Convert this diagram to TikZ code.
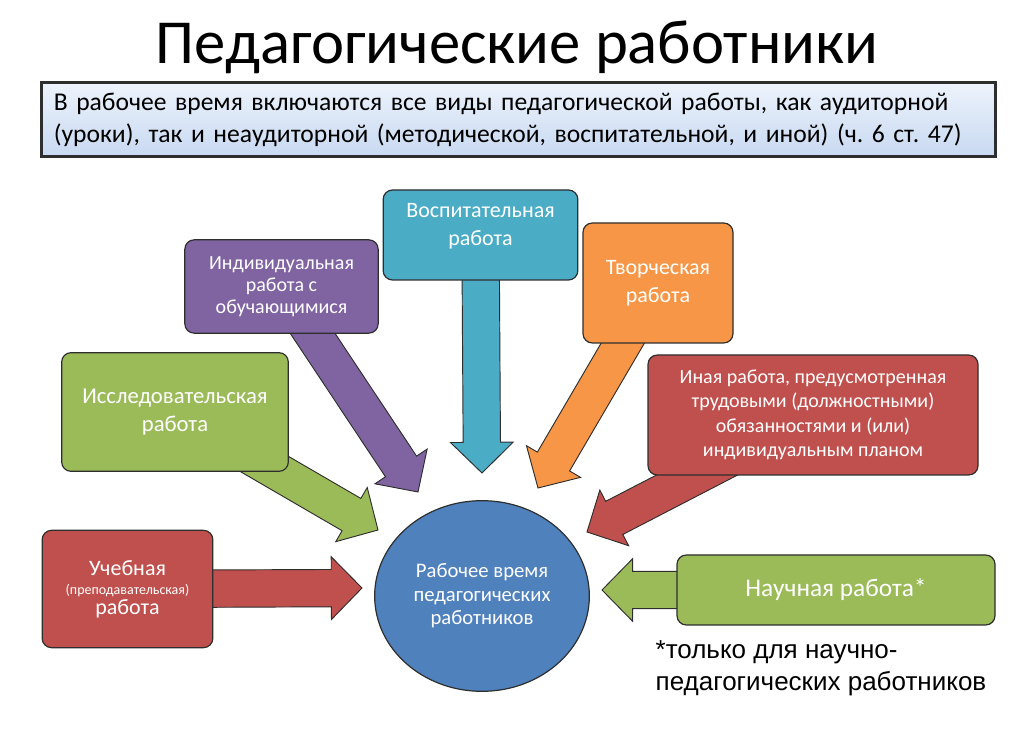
\documentclass[tikz,border=0pt]{standalone}
\usepackage{fontspec}
\setmainfont{Carlito}
\newfontfamily\notefont{Liberation Sans}
\usetikzlibrary{calc, backgrounds, shapes.geometric}
\frenchspacing

\definecolor{edgeC}{HTML}{2E2E2E}
\definecolor{cyanC}{HTML}{4BACC6}
\definecolor{purpleC}{HTML}{8064A2}
\definecolor{orangeC}{HTML}{F79646}
\definecolor{greenC}{HTML}{9BBB59}
\definecolor{redC}{HTML}{C0504D}
\definecolor{blueC}{HTML}{4F81BD}
\definecolor{paleA}{HTML}{EDF3FC}
\definecolor{paleB}{HTML}{C8D9F1}

% wide arrow from a box to a tip coordinate: colour, box, tip
\newcommand{\blockarrow}[3]{%
  \coordinate (hb) at ($(#3)!23pt!(#2.center)$);
  \draw[barrow, fill=#1] ($(#2.center)!14pt!90:(#3)$) -- ($(hb)!14pt!90:(#3)$) -- ($(hb)!23.5pt!90:(#3)$) -- (#3)
    -- ($(hb)!23.5pt!-90:(#3)$) -- ($(hb)!14pt!-90:(#3)$) -- ($(#2.center)!14pt!-90:(#3)$) -- cycle;}

\begin{document}
\begin{tikzpicture}[x=0.75pt, y=-0.75pt, box/.style={draw=edgeC, line width=0.9pt, rounded corners=7pt, text=white, align=center, inner sep=2pt, font=\fontsize{16.5}{21}\selectfont}, barrow/.style={draw=edgeC, line width=0.7pt, line join=miter}]

\useasboundingbox (0,0) rectangle (1025,730);

\node (title) at (517,47) {\fontsize{47}{56}\selectfont Педагогические работники};
\node[draw=edgeC, line width=2.2pt, top color=paleA, bottom color=paleB, minimum width=715pt, minimum height=56pt, text width=697pt, align=left, font=\fontsize{19.2}{24}\selectfont] (intro) at (518.5,119.5) {В рабочее время включаются все виды педагогической работы, как аудиторной\\(уроки), так и неаудиторной (методической, воспитательной, и иной) (ч. 6 ст. 47)};

\node[box, fill=cyanC, minimum width=146pt, minimum height=67.5pt] (vosp) at (480.5,235) {Воспитательная\\работа\\[-5pt]};
\node[box, fill=purpleC, minimum width=145pt, minimum height=70pt, font=\fontsize{15}{16.5}\selectfont] (indiv) at (281.5,286.5) {Индивидуальная\\работа с\\обучающимися};
\node[box, fill=orangeC, minimum width=112.5pt, minimum height=90pt] (tvor) at (658,283) {Творческая\\работа};
\node[box, fill=greenC, minimum width=170pt, minimum height=89pt, font=\fontsize{17}{21}\selectfont] (issl) at (175,412) {Исследовательская\\работа};
\node[box, fill=redC, minimum width=247.5pt, minimum height=90pt, font=\fontsize{15}{18.4}\selectfont] (inaya) at (813,415) {Иная работа, предусмотренная\\трудовыми (должностными)\\обязанностями и (или)\\индивидуальным планом};
\node[box, fill=redC, minimum width=128pt, minimum height=88pt, font=\fontsize{16.5}{14.5}\selectfont] (ucheb) at (127.5,589) {Учебная\\{\fontsize{10.5}{12}\selectfont(преподавательская)}\\работа};
\node[box, fill=greenC, minimum width=238.5pt, minimum height=52.5pt, font=\fontsize{19}{22}\selectfont] (nauch) at (836,590) {Научная работа*};
\node[ellipse, draw=edgeC, line width=0.9pt, fill=blueC, text=white, align=center, minimum width=161pt, minimum height=143pt, font=\fontsize{15.5}{17.6}\selectfont] (work) at (482,596) {Рабочее время\\педагогических\\работников};

\node[anchor=west, align=left, font=\notefont\fontsize{19.5}{24}\selectfont] (note) at (651,668) {*только для научно-\\педагогических работников};

\coordinate (tipVosp) at (482,473);
\coordinate (tipIndiv) at (418,492);
\coordinate (tipTvor) at (538,488);
\coordinate (tipIssl) at (378,530);
\coordinate (tipInaya) at (587,532);
\coordinate (tipUcheb) at (362,588);
\coordinate (tipNauch) at (602,590);

\begin{scope}[on background layer]
\blockarrow{cyanC}{vosp}{tipVosp}
\blockarrow{purpleC}{indiv}{tipIndiv}
\blockarrow{orangeC}{tvor}{tipTvor}
\blockarrow{greenC}{issl}{tipIssl}
\blockarrow{redC}{inaya}{tipInaya}
\blockarrow{redC}{ucheb}{tipUcheb}
\blockarrow{greenC}{nauch}{tipNauch}
\end{scope}

\end{tikzpicture}
\end{document}
